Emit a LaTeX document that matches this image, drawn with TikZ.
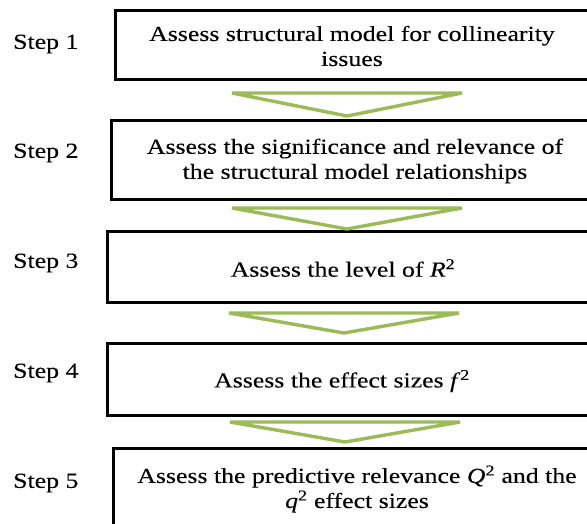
\documentclass[tikz,border=0pt]{standalone}
\usepackage{fontspec}
\setmainfont[FakeStretch=1.2,FakeBold=0.15]{Liberation Serif}
\definecolor{arrowgreen}{RGB}{155,187,89}
\begin{document}
\begin{tikzpicture}[x=1pt,y=-1pt,
  box/.style={draw=black,line width=3pt,fill=white,inner sep=0pt},
  boxtext/.style={align=center,font=\fontsize{21.5}{25}\selectfont,inner sep=0pt},
  steplabel/.style={anchor=west,font=\fontsize{21.5}{25}\selectfont,inner sep=0pt},
  downarrow/.style={draw=arrowgreen,line width=3.4pt,line join=miter}]
\clip (0,0) rectangle (587,524);
\fill[white] (0,0) rectangle (587,524);
% boxes
\node[box,minimum width=485pt,minimum height=69pt] (b1) at (357.5,45.5) {};
\node[box,minimum width=489pt,minimum height=79pt] (b2) at (355.5,160.5) {};
\node[box,minimum width=493pt,minimum height=70pt] (b3) at (353.5,267) {};
\node[box,minimum width=493pt,minimum height=72pt] (b4) at (353.5,379) {};
\node[box,minimum width=487pt,minimum height=92pt] (b5) at (356.5,494) {};
% box texts
\node[boxtext] (t1) at (352,46) {Assess structural model for collinearity\\issues};
\node[boxtext] (t2) at (355,161) {Assess the significance and relevance of\\the structural model relationships};
\node[boxtext] (t3) at (343,268) {Assess the level of \textit{R}\textsuperscript{2}};
\node[boxtext] (t4) at (342,381) {Assess the effect sizes \textit{f}\textsuperscript{2}};
\node[boxtext] (t5) at (357,489) {Assess the predictive relevance \textit{Q}\textsuperscript{2} and the\\\textit{q}\textsuperscript{2} effect sizes};
% step labels
\node[steplabel] (s1) at (13,44) {Step 1};
\node[steplabel] (s2) at (13,153) {Step 2};
\node[steplabel] (s3) at (13,263) {Step 3};
\node[steplabel] (s4) at (13,373) {Step 4};
\node[steplabel] (s5) at (13,483) {Step 5};
% green arrows
\coordinate (a1l) at (232,93); \coordinate (a1r) at (462,93); \coordinate (a1t) at (347,116);
\coordinate (a2l) at (232,208); \coordinate (a2r) at (462,208); \coordinate (a2t) at (347,229);
\coordinate (a3l) at (229,313); \coordinate (a3r) at (459,313); \coordinate (a3t) at (344,333);
\coordinate (a4l) at (230,422); \coordinate (a4r) at (460,422); \coordinate (a4t) at (345,442);
\draw[downarrow] (a1l) -- (a1r) -- (a1t) -- cycle;
\draw[downarrow] (a2l) -- (a2r) -- (a2t) -- cycle;
\draw[downarrow] (a3l) -- (a3r) -- (a3t) -- cycle;
\draw[downarrow] (a4l) -- (a4r) -- (a4t) -- cycle;
\end{tikzpicture}
\end{document}
